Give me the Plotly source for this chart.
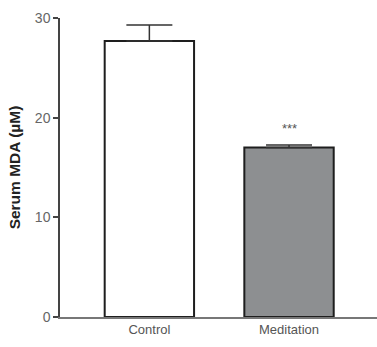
import plotly.graph_objects as go

categories = ["Control", "Meditation"]
means = [27.7, 17.0]
sem = [1.6, 0.25]
y_ticks = [0, 10, 20, 30]
sig_label = "***"

fig = go.Figure()
fig.add_trace(go.Bar(
    x=categories, y=means,
    marker=dict(color=["#ffffff", "#8d8f91"], line=dict(color="#1e1e1e", width=2)),
    width=0.64,
    error_y=dict(type="data", array=sem, arrayminus=[0, 0], symmetric=False,
                 color="#333333", thickness=1.5, width=23),
))
fig.add_annotation(x=categories[1], y=means[1] + sem[1] + 1.7, text=sig_label,
                   showarrow=False, font=dict(size=13, color="#555555", family="Liberation Sans"))
fig.update_layout(
    width=377, height=347,
    margin=dict(l=60, r=0, t=18, b=30),
    plot_bgcolor="white", paper_bgcolor="white",
    showlegend=False,
    font=dict(family="Liberation Sans, Arial", color="#555555"),
    xaxis=dict(range=[-0.64, 1.63], showline=True, linecolor="#777777", linewidth=1.5,
               ticks="", tickfont=dict(size=13, color="#555555"), showgrid=False, zeroline=False),
    yaxis=dict(range=[0, 30], tickvals=y_ticks, showline=True, linecolor="#444444", linewidth=1.5,
               ticks="outside", ticklen=5, tickcolor="#444444", tickwidth=1.5,
               tickfont=dict(size=14, color="#666666"), showgrid=False, zeroline=False,
               title=dict(text="<b>Serum MDA (µM)</b>", font=dict(size=15.5, color="#222222"), standoff=10)),
)
fig.write_html("out.html", config={"displayModeBar": False},
               post_script="document.body.style.margin='0';document.body.style.overflow='hidden';")
